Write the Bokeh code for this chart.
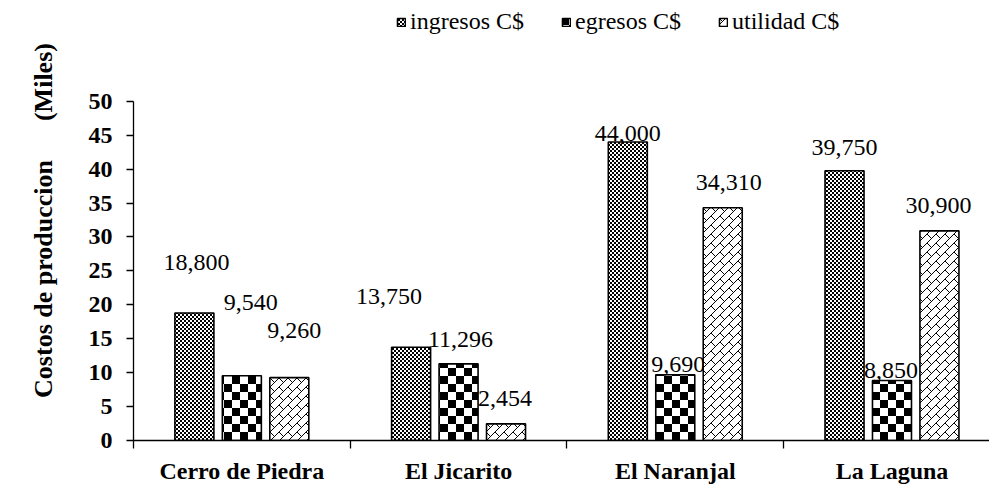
import base64
import struct
import zlib

from bokeh.plotting import figure
from bokeh.models import (ColumnDataSource, Range1d, FixedTicker,
                          Legend, LegendItem, ImageURLTexture)
from bokeh.core.properties import value
from bokeh.embed import file_html
from bokeh.resources import INLINE

# ---- data -------------------------------------------------------------
sites = ["Cerro de Piedra", "El Jicarito", "El Naranjal", "La Laguna"]
ingresos = [18800, 13750, 44000, 39750]
egresos = [9540, 11296, 9690, 8850]
utilidad = [9260, 2454, 34310, 30900]
series_names = ["ingresos C$", "egresos C$", "utilidad C$"]
y_ticks = [0, 5, 10, 15, 20, 25, 30, 35, 40, 45, 50]
y_title = "Costos de produccion"
y_unit = "(Miles)"

# ---- styling ------------------------------------------------------------
SERIF = "Liberation Serif"
FS = "24px"
BAR_W = 0.18
DODGE = [-0.219, 0.0, 0.219]
Y_MAX = 50
# extra headroom above the axis top leaves room for the legend
Y_TOP = Y_MAX * 441 / 340
LABEL_NUDGE = [
    [(2, -50), (-22, -51), (0, -8), (0, -23)],
    [(9, -73), (2, -24), (3, -10), (-1, -10)],
    [(5, -47), (-1, -25), (6, -25), (-1, -25)],
]


def png_tile(rows):
    """Encode a small black/white tile (list of '0'/'1' strings) as a PNG data URI."""
    h, w = len(rows), len(rows[0])
    raw = b"".join(b"\x00" + bytes(0 if ch == "1" else 255 for ch in row) for row in rows)

    def chunk(tag, data):
        c = struct.pack(">I", len(data)) + tag + data
        return c + struct.pack(">I", zlib.crc32(tag + data) & 0xFFFFFFFF)

    png = (b"\x89PNG\r\n\x1a\n"
           + chunk(b"IHDR", struct.pack(">IIBBBBB", w, h, 8, 0, 0, 0, 0))
           + chunk(b"IDAT", zlib.compress(raw))
           + chunk(b"IEND", b""))
    return "data:image/png;base64," + base64.b64encode(png).decode()


def checker(cell):
    rows = []
    for yy in range(2 * cell):
        rows.append("".join("1" if (xx // cell + yy // cell) % 2 == 0 else "0"
                            for xx in range(2 * cell)))
    return rows


def brick(n):
    rows = []
    for yy in range(n):
        rows.append("".join("1" if ((xx + yy) % n == n - 1 or (xx == yy and xx <= n // 2)) else "0"
                            for xx in range(n)))
    return rows


textures = {
    "fine": ImageURLTexture(url=png_tile(checker(2))),
    "big": ImageURLTexture(url=png_tile(checker(8))),
    "brick": ImageURLTexture(url=png_tile(brick(9))),
}
patterns = ["fine", "big", "brick"]

p = figure(width=989, height=486, output_backend="svg", toolbar_location=None,
           x_range=Range1d(0, 3.95), y_range=Range1d(0, Y_TOP),
           min_border_left=133, min_border_right=0, min_border_top=0,
           min_border_bottom=45)
p.outline_line_color = None
p.xgrid.visible = False
p.ygrid.visible = False

series = [ingresos, egresos, utilidad]
centers = [i + 0.5 for i in range(len(sites))]
renderers = []
for k, vals in enumerate(series):
    src = ColumnDataSource(dict(
        x=[c + DODGE[k] for c in centers],
        top=[v / 1000 for v in vals],
        lbl=[f"{v:,}" for v in vals],
        dx=[d[0] for d in LABEL_NUDGE[k]],
        dy=[d[1] for d in LABEL_NUDGE[k]],
    ))
    r = p.vbar(x="x", top="top", width=BAR_W, source=src,
               fill_color="white", line_color="black", line_width=1.6,
               hatch_pattern=value(patterns[k]), hatch_extra=textures)
    renderers.append(r)
    p.text(x="x", y="top", text="lbl", x_offset="dx", y_offset="dy",
           source=src, text_align="center", text_baseline="middle",
           text_font=value(SERIF), text_font_size=FS, text_color="black")

xa = p.xaxis[0]
xa.ticker = FixedTicker(ticks=centers, minor_ticks=[0, 1, 2, 3, 4])
xa.major_label_overrides = {c: s for c, s in zip(centers, sites)}
xa.major_tick_in = 0
xa.major_tick_out = 0
xa.minor_tick_in = 0
xa.minor_tick_out = 8
xa.minor_tick_line_color = "black"
xa.axis_line_color = "black"
xa.axis_line_width = 1.3
xa.minor_tick_line_width = 1.3
xa.major_label_standoff = 9
xa.major_label_text_font = SERIF
xa.major_label_text_font_style = "bold"
xa.major_label_text_font_size = FS
xa.major_label_text_color = "black"

ya = p.yaxis[0]
ya.ticker = FixedTicker(ticks=y_ticks)
ya.bounds = (0, Y_MAX)
ya.minor_tick_line_color = None
ya.major_tick_in = 0
ya.major_tick_out = 7
ya.axis_line_color = "black"
ya.axis_line_width = 1.3
ya.major_tick_line_width = 1.3
ya.major_label_standoff = 14
ya.major_label_text_font = SERIF
ya.major_label_text_font_style = "bold"
ya.major_label_text_font_size = FS
ya.major_label_text_color = "black"
ya.axis_label = y_title + "\u00a0" * 6 + y_unit
ya.axis_label_standoff = 28
ya.axis_label_text_font = SERIF
ya.axis_label_text_font_style = "bold"
ya.axis_label_text_font_size = "26px"
ya.axis_label_text_color = "black"

legend = Legend(items=[LegendItem(label=n, renderers=[r])
                       for n, r in zip(series_names, renderers)],
                orientation="horizontal", location=(263, 405),
                glyph_width=10, glyph_height=10, label_standoff=4,
                spacing=37, padding=0, margin=0,
                border_line_color=None, background_fill_alpha=0,
                label_text_font=SERIF, label_text_font_size=FS,
                label_text_color="black")
p.add_layout(legend, "center")

open("out.html", "w").write(file_html(p, INLINE))
